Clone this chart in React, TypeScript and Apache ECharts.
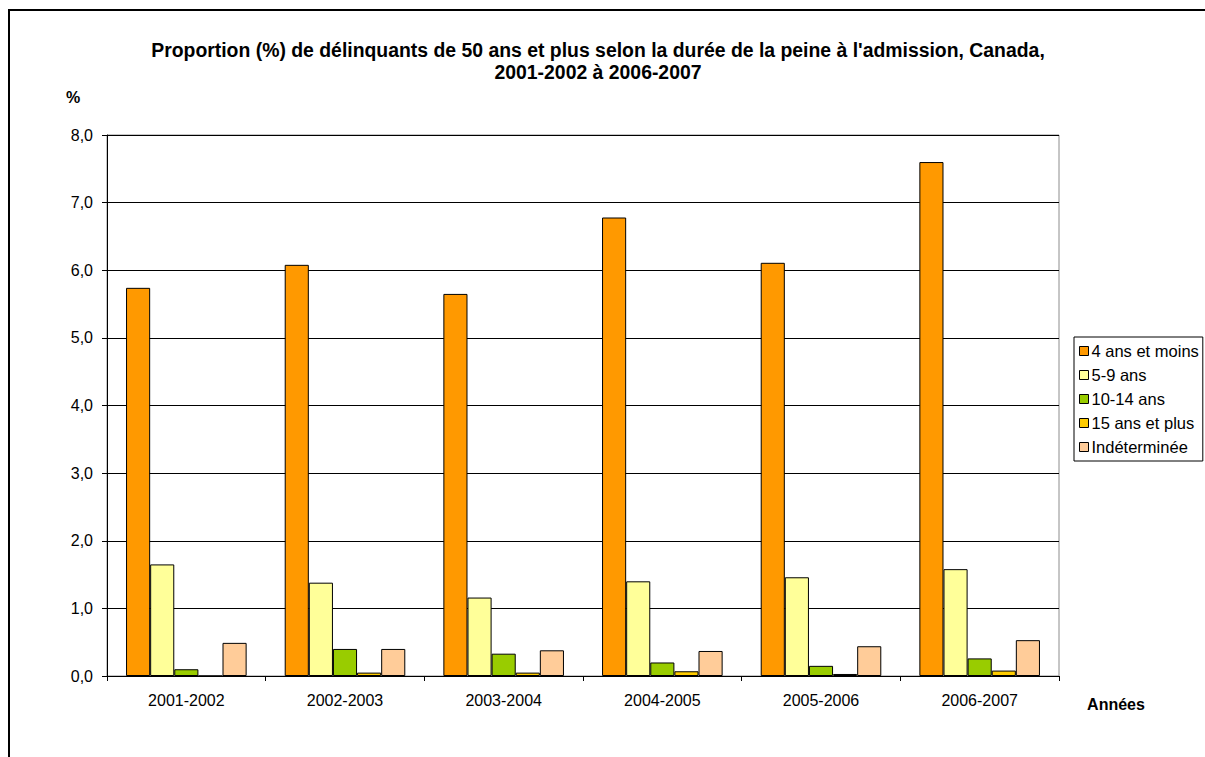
import React, { useEffect, useRef } from "react";
import * as echarts from "echarts";

const categories = ["2001-2002", "2002-2003", "2003-2004", "2004-2005", "2005-2006", "2006-2007"];
const seriesNames = ["4 ans et moins", "5-9 ans", "10-14 ans", "15 ans et plus", "Indéterminée"];
const s4etMoins = [5.74, 6.08, 5.65, 6.78, 6.11, 7.6];
const s5a9 = [1.65, 1.38, 1.16, 1.4, 1.46, 1.58];
const s10a14 = [0.1, 0.4, 0.33, 0.2, 0.15, 0.26];
const s15plus = [0, 0.05, 0.05, 0.07, 0.03, 0.08];
const sIndet = [0.49, 0.4, 0.38, 0.37, 0.44, 0.53];
const colors = ["#FF9900", "#FFFF99", "#99CC00", "#FFCC00", "#FFCC99"];
const yTicks = { min: 0, max: 8, interval: 1 };

const FONT = "'Liberation Sans', Arial, sans-serif";

export default function App() {
  const ref = useRef<HTMLDivElement>(null);
  useEffect(() => {
    if (!ref.current) return;
    const chart = echarts.init(ref.current, null, { renderer: "svg" });
    const data = [s4etMoins, s5a9, s10a14, s15plus, sIndet];
    chart.setOption({
      animation: false,
      backgroundColor: "#fff",
      textStyle: { fontFamily: FONT },
      grid: {
        left: 107,
        right: 146,
        top: 135,
        bottom: 81,
        show: true,
        borderColor: "#8c8c8c",
        borderWidth: 1,
      },
      legend: {
        orient: "vertical",
        left: 1074,
        top: 337,
        data: seriesNames,
        icon: "rect",
        itemWidth: 9,
        itemHeight: 9,
        itemGap: 6,
        padding: [5, 4, 5, 5],
        borderColor: "#000",
        borderWidth: 1,
        textStyle: { fontSize: 16.5, color: "#000", fontFamily: FONT, padding: [0, 0, 0, -2], lineHeight: 18 },
        itemStyle: { borderColor: "#000", borderWidth: 1 },
      },
      xAxis: {
        type: "category",
        data: categories,
        axisLine: { lineStyle: { color: "#000", width: 1 } },
        axisTick: { show: true, alignWithLabel: false, length: 5, lineStyle: { color: "#000" } },
        axisLabel: { fontSize: 16, color: "#000", margin: 16, fontFamily: FONT },
      },
      yAxis: {
        type: "value",
        min: yTicks.min,
        max: yTicks.max,
        interval: yTicks.interval,
        axisLine: { show: true, lineStyle: { color: "#000", width: 1 } },
        axisTick: { show: true, length: 5, lineStyle: { color: "#000" } },
        axisLabel: {
          fontSize: 16,
          color: "#000",
          margin: 14,
          fontFamily: FONT,
          formatter: (v: number) => v.toFixed(1).replace(".", ","),
        },
        splitLine: { show: true, lineStyle: { color: "#000", width: 1 } },
      },
      series: seriesNames.map((name, i) => ({
        name,
        type: "bar",
        data: data[i],
        barGap: "0%",
        barCategoryGap: "24%",
        itemStyle: { color: colors[i], borderColor: "#000", borderWidth: 1 },
      })),
      graphic: [
        {
          type: "rect",
          shape: { x: 9, y: 10, width: 1220, height: 780 },
          style: { fill: "none", stroke: "#000", lineWidth: 2 },
          silent: true,
        },
        {
          type: "text",
          x: 598,
          y: 61,
          style: {
            text: "Proportion (%) de délinquants de 50 ans et plus selon la durée de la peine à l'admission, Canada,\n2001-2002 à 2006-2007",
            font: `bold 19.4px ${FONT}`,
            fill: "#000",
            align: "center",
            verticalAlign: "middle",
            lineHeight: 22,
          },
        },
        {
          type: "text",
          x: 73,
          y: 97,
          style: { text: "%", font: `bold 16px ${FONT}`, fill: "#000", align: "center", verticalAlign: "middle" },
        },
        {
          type: "text",
          x: 1116,
          y: 704,
          style: { text: "Années", font: `bold 16px ${FONT}`, fill: "#000", align: "center", verticalAlign: "middle" },
        },
      ],
    });
    return () => chart.dispose();
  }, []);
  return (
    <div
      ref={ref}
      style={{ position: "absolute", left: 0, top: 0, width: 1205, height: 757 }}
    />
  );
}
